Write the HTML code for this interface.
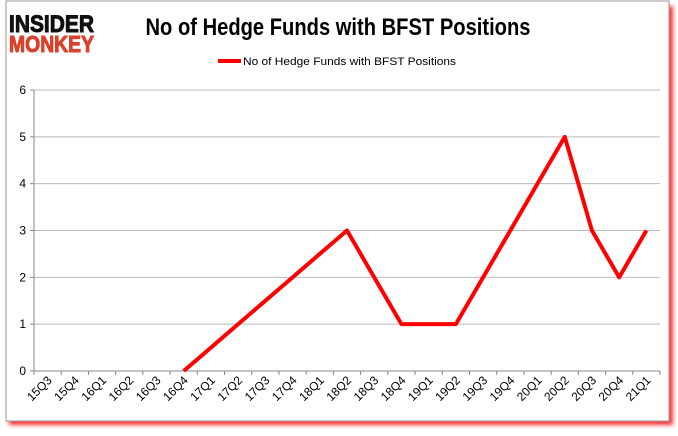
<!DOCTYPE html>
<html><head><meta charset="utf-8"><style>
body{margin:0;background:#fff;width:678px;height:431px;overflow:hidden;font-family:"Liberation Sans",sans-serif}
</style></head><body>
<svg id="c" width="678" height="431" xmlns="http://www.w3.org/2000/svg">
<defs><filter id="sh" x="-5%" y="-5%" width="115%" height="115%"><feGaussianBlur stdDeviation="2"/></filter></defs>
<rect x="9" y="6" width="664" height="419" fill="#f00" opacity="0.8" filter="url(#sh)"/>
<rect x="6" y="1" width="663" height="420" fill="#fff" stroke="#999"/>
<g font-family="'Liberation Sans',sans-serif" font-weight="bold">
<text x="9" y="32" fill="#111" font-size="24" stroke="#111" stroke-width="1" textLength="85" lengthAdjust="spacingAndGlyphs">INSIDER</text>
<text x="9" y="52" fill="#d9412b" font-size="23" stroke="#d9412b" stroke-width="1" textLength="85" lengthAdjust="spacingAndGlyphs">MONKEY</text>
</g>
<text x="338" y="35" text-anchor="middle" font-size="24" font-weight="bold" fill="#000" textLength="385" lengthAdjust="spacingAndGlyphs">No of Hedge Funds with BFST Positions</text>
<g>
<line x1="218" y1="61" x2="241" y2="61" stroke="#f00" stroke-width="4"/>
<text x="243" y="65" font-size="11" fill="#000" textLength="213" lengthAdjust="spacingAndGlyphs">No of Hedge Funds with BFST Positions</text>
</g>
<g id="grid"></g><g id="axes"></g><g id="series"></g>
</svg>
<script>
const categories=["15Q3","15Q4","16Q1","16Q2","16Q3","16Q4","17Q1","17Q2","17Q3","17Q4","18Q1","18Q2","18Q3","18Q4","19Q1","19Q2","19Q3","19Q4","20Q1","20Q2","20Q3","20Q4","21Q1"];
const values=[null,null,null,null,null,0,0.5,1,1.5,2,2.5,3,2,1,1,1,2,3,4,5,3,2,3];
const yTicks=[0,1,2,3,4,5,6];
const NS="http://www.w3.org/2000/svg";
const L=34,R=660,T=90,B=371,YMAX=6;
const bw=(R-L)/categories.length;
const x=i=>L+bw*(i+0.5);
const y=v=>B-(v/YMAX)*(B-T);
function mk(t,a,p){const e=document.createElementNS(NS,t);for(const k in a)e.setAttribute(k,a[k]);p.appendChild(e);return e;}
const grid=document.getElementById('grid'),axes=document.getElementById('axes'),ser=document.getElementById('series');
yTicks.forEach(v=>{
 if(v>0){const g=mk('line',{x1:L,x2:R,y1:y(v),y2:y(v),stroke:'#bbb','stroke-width':1},grid);
 
 }
 const t=mk('text',{x:L-8,y:y(v)+4,'text-anchor':'end','font-size':12,fill:'#000'},axes);t.textContent=v;
 
 
 mk('line',{x1:L-4,x2:L,y1:y(v),y2:y(v),stroke:'#888'},axes);
});
const ya=mk('line',{x1:L,x2:L,y1:T,y2:B,stroke:'#888'},axes);


const xa=mk('line',{x1:L,x2:R,y1:B,y2:B,stroke:'#888'},axes);


categories.forEach((c,i)=>{
 mk('line',{x1:L+bw*i,x2:L+bw*i,y1:B,y2:B+4,stroke:'#888'},axes);
 const cx=x(i)+5,cy=B+10;
 const t=mk('text',{x:cx,y:cy,'text-anchor':'end','font-size':12,fill:'#000',transform:`rotate(-45 ${cx} ${cy})`},axes);
 t.textContent=c;
 
 
});
mk('line',{x1:R,x2:R,y1:B,y2:B+4,stroke:'#888'},axes);
let d='';values.forEach((v,i)=>{if(v===null)return;d+=(d?'L':'M')+x(i)+','+y(v);});
const p=mk('path',{d:d,fill:'none',stroke:'#f00','stroke-width':4,'stroke-linejoin':'round'},ser);


</script>
</body></html>
